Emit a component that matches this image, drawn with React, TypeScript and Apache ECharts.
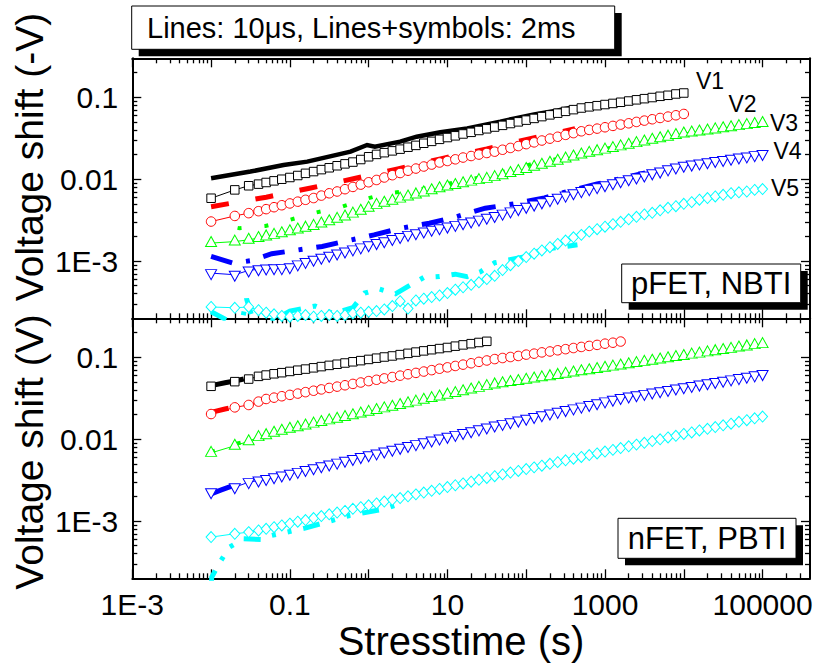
import React, { useEffect, useRef } from "react";
import * as echarts from "echarts";

const FONT = "'Liberation Sans', Arial, Helvetica, sans-serif";

// ---------- axes ----------
const X_MIN = 0.001;
const X_MAX = 4e5;
const Y_MIN = 2e-4;
const Y_MAX = 0.3;
const X_MAJOR = [0.001, 0.01, 0.1, 1, 10, 100, 1000, 10000, 100000];
const X_LABEL_VALUES = [0.001, 0.1, 10, 1000, 100000];
const X_TICK_LABELS = ["1E-3", "0.1", "10", "1000", "100000"];
const Y_MAJOR = [0.001, 0.01, 0.1];
const Y_LABEL_VALUES = [0.001, 0.01, 0.1];
const Y_TICK_LABELS = ["1E-3", "0.01", "0.1"];

// ---------- stress times of the 2 ms (lines+symbols) measurements, s ----------
const T_SYM = [
  0.01, 0.02, 0.03, 0.04, 0.05, 0.063, 0.079,
  0.1, 0.126, 0.158, 0.2, 0.251, 0.316, 0.398, 0.501, 0.631, 0.794,
  1, 1.26, 1.58, 2, 2.51, 3.16, 3.98, 5.01, 6.31, 7.94,
  10, 12.6, 15.8, 20, 25.1, 31.6, 39.8, 50.1, 63.1, 79.4,
  100, 126, 158, 200, 251, 316, 398, 501, 631, 794,
  1000, 1260, 1580, 2000, 2510, 3160, 3980, 5010, 6310, 7940,
  10000, 12600, 15800, 20000, 25100, 31600, 39800, 50100, 63100, 79400,
  100000,
];

// ---------- pFET, NBTI : 2 ms symbols (V) ----------
const P_V1 = [0.00586, 0.00741, 0.00832, 0.00871, 0.00912, 0.00955, 0.0100, 0.0105, 0.0111, 0.0118, 0.0124, 0.0131, 0.0138, 0.0146, 0.0154, 0.0162, 0.0174, 0.0188, 0.0201, 0.0211, 0.0222, 0.0233, 0.0246, 0.0259, 0.0275, 0.0290, 0.0307, 0.0323, 0.0339, 0.0357, 0.0374, 0.0394, 0.0413, 0.0434, 0.0455, 0.0479, 0.0502, 0.0527, 0.0553, 0.0582, 0.0611, 0.0641, 0.0675, 0.0708, 0.0741, 0.0766, 0.0791, 0.0817, 0.0843, 0.0871, 0.0902, 0.0933, 0.0964, 0.0995, 0.103, 0.106, 0.110, 0.113];
const P_V2 = [0.00304, 0.00356, 0.00385, 0.00407, 0.00431, 0.00455, 0.00481, 0.00506, 0.00532, 0.00560, 0.00589, 0.00631, 0.00673, 0.00708, 0.00755, 0.00805, 0.00859, 0.00918, 0.00979, 0.0105, 0.0112, 0.0119, 0.0127, 0.0135, 0.0143, 0.0151, 0.0160, 0.0167, 0.0175, 0.0184, 0.0192, 0.0200, 0.0209, 0.0217, 0.0229, 0.0241, 0.0254, 0.0268, 0.0282, 0.0297, 0.0313, 0.0330, 0.0348, 0.0366, 0.0385, 0.0400, 0.0415, 0.0431, 0.0448, 0.0465, 0.0482, 0.0501, 0.0520, 0.0540, 0.0560, 0.0582, 0.0604, 0.0627];
const P_V3 = [0.00166, 0.00173, 0.00182, 0.00191, 0.00200, 0.00209, 0.00219, 0.00231, 0.00243, 0.00256, 0.00269, 0.00288, 0.00307, 0.00328, 0.00350, 0.00380, 0.00412, 0.00447, 0.00486, 0.00515, 0.00546, 0.00579, 0.00614, 0.00652, 0.00690, 0.00733, 0.00776, 0.00813, 0.00851, 0.00893, 0.00935, 0.00975, 0.0101, 0.0106, 0.0112, 0.0119, 0.0126, 0.0133, 0.0142, 0.0150, 0.0159, 0.0168, 0.0179, 0.0189, 0.0200, 0.0210, 0.0220, 0.0230, 0.0240, 0.0252, 0.0264, 0.0276, 0.0289, 0.0303, 0.0316, 0.0331, 0.0347, 0.0361, 0.0372, 0.0383, 0.0394, 0.0406, 0.0419, 0.0432, 0.0445, 0.0458, 0.0472, 0.0486];
const P_V4 = [0.000713, 0.000681, 0.000769, 0.000794, 0.000813, 0.000817, 0.000820, 0.000841, 0.000912, 0.000977, 0.00104, 0.00110, 0.00116, 0.00124, 0.00131, 0.00139, 0.00147, 0.00156, 0.00166, 0.00175, 0.00186, 0.00197, 0.00209, 0.00219, 0.00230, 0.00241, 0.00252, 0.00264, 0.00277, 0.00290, 0.00304, 0.00321, 0.00338, 0.00356, 0.00380, 0.00405, 0.00432, 0.00460, 0.00490, 0.00522, 0.00556, 0.00593, 0.00631, 0.00673, 0.00716, 0.00757, 0.00800, 0.00845, 0.00893, 0.00944, 0.00998, 0.0105, 0.0111, 0.0118, 0.0124, 0.0132, 0.0139, 0.0146, 0.0151, 0.0156, 0.0161, 0.0167, 0.0172, 0.0178, 0.0184, 0.0190, 0.0197, 0.0203];
const P_V5 = [0.000275, 0.000269, 0.000275, 0.000251, 0.000234, 0.000224, 0.000214, 0.000209, 0.000214, 0.000219, 0.000209, 0.000214, 0.000219, 0.000214, 0.000219, 0.000229, 0.000234, 0.000240, 0.000245, 0.000257, 0.000282, 0.000324, 0.000263, 0.000331, 0.000347, 0.000363, 0.000380, 0.000407, 0.000447, 0.000479, 0.000513, 0.000550, 0.000603, 0.000661, 0.000776, 0.000891, 0.00100, 0.00112, 0.00123, 0.00135, 0.00148, 0.00162, 0.00178, 0.00195, 0.00209, 0.00229, 0.00245, 0.00263, 0.00282, 0.00302, 0.00324, 0.00347, 0.00372, 0.00389, 0.00417, 0.00447, 0.00468, 0.00501, 0.00525, 0.00562, 0.00589, 0.00617, 0.00646, 0.00676, 0.00692, 0.00708, 0.00741, 0.00759];

// ---------- pFET, NBTI : 10 us lines ----------
const P_L1_T = [0.01, 0.0316, 0.0832, 0.166, 0.251, 0.589, 0.955, 1.20, 2.51, 4.07, 8.13, 17.8, 46.8, 69.2, 126, 251, 398];
const P_L1_V = [0.0103, 0.0124, 0.0149, 0.0164, 0.0180, 0.0217, 0.0262, 0.0250, 0.0288, 0.0331, 0.0374, 0.0418, 0.0505, 0.0550, 0.0617, 0.0692, 0.0759];
const P_L2_T = [0.01, 0.0501, 0.178, 0.661, 2.34, 8.71, 31.6, 120, 417];
const P_L2_V = [0.00462, 0.00603, 0.00776, 0.0102, 0.0134, 0.0180, 0.0234, 0.0318, 0.0414];
const P_L3_T = [0.01, 0.0229, 0.049, 0.1, 0.214, 0.437, 0.822, 1.70, 3.72, 17.8, 39.8, 112, 1000, 3981, 19953, 100000];
const P_L3_V = [0.00295, 0.00252, 0.00269, 0.00319, 0.00392, 0.00455, 0.00558, 0.00675, 0.00726, 0.00979, 0.0115, 0.0151, 0.0234, 0.0305, 0.0389, 0.0468];
const P_L4_T = [0.01, 0.0191, 0.0316, 0.0589, 0.115, 0.257, 0.550, 1.17, 2.57, 5.89, 13.2, 30.2, 69.2, 170, 347, 794, 3236];
const P_L4_V = [0.00114, 0.000944, 0.00101, 0.00123, 0.00135, 0.00151, 0.00178, 0.00209, 0.00252, 0.00290, 0.00350, 0.00443, 0.00499, 0.00592, 0.00713, 0.00875, 0.0119];
const P_L5_T = [0.01, 0.0158, 0.024, 0.0282, 0.0355, 0.0631, 0.1, 0.209, 0.355, 0.631, 0.891, 1.35, 2.19, 3.16, 5.01, 7.94, 12.6, 17.8, 26.3, 39.8, 93.3, 158, 275, 447];
const P_L5_V = [0.00024, 0.000191, 0.000158, 0.000347, 0.000166, 0.000191, 0.000245, 0.000282, 0.000229, 0.000269, 0.000407, 0.000457, 0.000398, 0.00049, 0.000631, 0.000646, 0.000692, 0.000646, 0.000741, 0.000955, 0.00112, 0.00138, 0.00148, 0.00158];

// ---------- nFET, PBTI : 2 ms symbols (V) ----------
const N_V1 = [0.0443, 0.0505, 0.0543, 0.0586, 0.0608, 0.0630, 0.0650, 0.0673, 0.0697, 0.0719, 0.0745, 0.0771, 0.0798, 0.0824, 0.0853, 0.0883, 0.0912, 0.0944, 0.0977, 0.101, 0.104, 0.108, 0.112, 0.116, 0.120, 0.124, 0.128, 0.132, 0.137, 0.142, 0.147, 0.152, 0.157];
const N_V2 = [0.0203, 0.0245, 0.0262, 0.0288, 0.0310, 0.0322, 0.0335, 0.0348, 0.0361, 0.0376, 0.0391, 0.0406, 0.0423, 0.0439, 0.0456, 0.0474, 0.0493, 0.0513, 0.0532, 0.0553, 0.0575, 0.0598, 0.0622, 0.0646, 0.0671, 0.0698, 0.0726, 0.0755, 0.0785, 0.0815, 0.0847, 0.0881, 0.0916, 0.0953, 0.0982, 0.101, 0.104, 0.108, 0.111, 0.115, 0.118, 0.122, 0.126, 0.130, 0.134, 0.138, 0.142, 0.147, 0.151, 0.156];
const N_V3 = [0.00681, 0.00832, 0.00944, 0.0106, 0.0112, 0.0120, 0.0127, 0.0134, 0.0140, 0.0147, 0.0155, 0.0162, 0.0170, 0.0178, 0.0187, 0.0196, 0.0206, 0.0216, 0.0227, 0.0238, 0.0249, 0.0262, 0.0275, 0.0288, 0.0303, 0.0318, 0.0333, 0.0350, 0.0366, 0.0385, 0.0404, 0.0424, 0.0445, 0.0467, 0.0482, 0.0499, 0.0515, 0.0533, 0.0551, 0.0570, 0.0589, 0.0610, 0.0631, 0.0652, 0.0675, 0.0697, 0.0721, 0.0745, 0.0771, 0.0796, 0.0824, 0.0851, 0.0881, 0.0910, 0.0942, 0.0973, 0.101, 0.104, 0.108, 0.111, 0.115, 0.119, 0.123, 0.127, 0.132, 0.136, 0.141, 0.145];
const N_V4 = [0.00225, 0.00259, 0.00299, 0.00313, 0.00327, 0.00343, 0.00360, 0.00379, 0.00399, 0.00421, 0.00443, 0.00467, 0.00492, 0.00518, 0.00546, 0.00574, 0.00605, 0.00637, 0.00671, 0.00708, 0.00745, 0.00785, 0.00826, 0.00871, 0.00918, 0.00966, 0.0102, 0.0107, 0.0113, 0.0119, 0.0125, 0.0132, 0.0139, 0.0147, 0.0154, 0.0161, 0.0169, 0.0178, 0.0187, 0.0196, 0.0206, 0.0216, 0.0227, 0.0238, 0.0250, 0.0262, 0.0275, 0.0290, 0.0304, 0.0319, 0.0333, 0.0345, 0.0358, 0.0372, 0.0385, 0.0400, 0.0416, 0.0432, 0.0448, 0.0465, 0.0482, 0.0500, 0.0519, 0.0538, 0.0558, 0.0581, 0.0603, 0.0625];
const N_V5 = [0.000637, 0.000700, 0.000733, 0.000769, 0.000804, 0.000841, 0.000885, 0.000931, 0.000982, 0.00103, 0.00109, 0.00115, 0.00121, 0.00127, 0.00133, 0.00141, 0.00148, 0.00156, 0.00164, 0.00173, 0.00182, 0.00191, 0.00201, 0.00212, 0.00223, 0.00234, 0.00247, 0.00260, 0.00274, 0.00288, 0.00303, 0.00319, 0.00336, 0.00354, 0.00372, 0.00391, 0.00410, 0.00432, 0.00453, 0.00475, 0.00500, 0.00525, 0.00552, 0.00579, 0.00608, 0.00640, 0.00671, 0.00706, 0.00741, 0.00780, 0.00818, 0.00859, 0.00904, 0.00948, 0.00998, 0.0105, 0.0110, 0.0116, 0.0121, 0.0128, 0.0134, 0.0141, 0.0148, 0.0155, 0.0163, 0.0171, 0.0180, 0.0189];

// ---------- nFET, PBTI : 10 us lines ----------
const N_L1_T = [0.01, 0.015, 0.02, 0.026];
const N_L1_V = [0.0451, 0.0490, 0.0515, 0.0543];
const N_L2_T = [0.01, 0.015, 0.019];
const N_L2_V = [0.0213, 0.0234, 0.0245];
const N_L3_T = [0.01, 0.0216, 0.05];
const N_L3_V = [0.0070, 0.0089, 0.0107];
const N_L4_T = [0.01, 0.0135, 0.0192];
const N_L4_V = [0.00215, 0.0024, 0.00272];
const N_L5_T = [0.01, 0.0102, 0.013, 0.0171, 0.0258, 0.0437, 0.0589, 0.156, 0.571, 1.62, 2.40];
const N_L5_V = [0.000158, 0.000207, 0.000316, 0.000481, 0.000608, 0.000597, 0.000668, 0.00082, 0.00117, 0.00141, 0.00162];

const SERIES_NAMES = ["V1", "V2", "V3", "V4", "V5"];
const COLORS = ["#000000", "#ff0000", "#00ff00", "#0000ff", "#00ffff"];

// ---------- helpers ----------
const minorTicks = (lo: number, hi: number, min: number, max: number) => {
  const out: number[] = [];
  for (let e = lo; e <= hi; e++) {
    for (let m = 2; m <= 9; m++) {
      const v = m * Math.pow(10, e);
      if (v > min * 1.0001 && v < max * 0.9999) out.push(v);
    }
  }
  return out;
};
const X_MINOR = minorTicks(-3, 5, X_MIN, X_MAX);
const Y_MINOR = minorTicks(-4, -1, Y_MIN, Y_MAX);

const fmt = (values: number[], labels: string[]) => (v: number) => {
  const i = values.findIndex((x) => Math.abs(Math.log10(x) - Math.log10(v)) < 1e-6);
  return i >= 0 ? labels[i] : "";
};

const pairs = (t: number[], v: number[]) => v.map((y, i) => [t[i], y]);

const GRID_LEFT = 132.3;
const GRID_W = 677.7;
const GRID_H = 260;
const TOPS = [58.3, 318.3];

function xAxis(grid: number, position: string, ticks: number[], len: number, line: boolean, label: boolean) {
  return {
    type: "log",
    logBase: 10,
    gridIndex: grid,
    position,
    min: X_MIN,
    max: X_MAX,
    silent: true,
    axisLine: { show: line, lineStyle: { color: "#000", width: 2 } },
    axisTick: { show: true, inside: true, length: len, customValues: ticks, lineStyle: { color: "#000", width: 1.3 } },
    axisLabel: label
      ? { show: true, customValues: X_LABEL_VALUES, formatter: fmt(X_LABEL_VALUES, X_TICK_LABELS), fontSize: 30, fontFamily: FONT, color: "#000", margin: 11 }
      : { show: false },
    splitLine: { show: false },
    minorTick: { show: false },
    minorSplitLine: { show: false },
  };
}

function yAxis(grid: number, position: string, ticks: number[], len: number, line: boolean, label: boolean) {
  return {
    type: "log",
    logBase: 10,
    gridIndex: grid,
    position,
    min: Y_MIN,
    max: Y_MAX,
    silent: true,
    axisLine: { show: line, lineStyle: { color: "#000", width: 2 } },
    axisTick: { show: true, inside: true, length: len, customValues: ticks, lineStyle: { color: "#000", width: 1.3 } },
    axisLabel: label
      ? { show: true, customValues: Y_LABEL_VALUES, formatter: fmt(Y_LABEL_VALUES, Y_TICK_LABELS), fontSize: 30, fontFamily: FONT, color: "#000", margin: 14 }
      : { show: false },
    splitLine: { show: false },
    minorTick: { show: false },
    minorSplitLine: { show: false },
  };
}

function fastLine(panel: number, idx: number, t: number[], v: number[], type: any, width: number) {
  return {
    type: "line",
    name: SERIES_NAMES[idx] + " 10us",
    xAxisIndex: panel * 4,
    yAxisIndex: panel * 4,
    data: pairs(t, v),
    symbol: "none",
    showSymbol: false,
    silent: true,
    clip: true,
    lineStyle: { color: COLORS[idx], width, type, cap: "butt", join: "miter" },
    emphasis: { disabled: true },
    z: 2,
  };
}

const SYMBOLS: any[] = [
  { symbol: "rect", size: 8.5, rotate: 0, offset: [0, 0] },
  { symbol: "circle", size: 9.5, rotate: 0, offset: [0, 0] },
  { symbol: "triangle", size: [11, 10], rotate: 0, offset: [0, -1.5] },
  { symbol: "triangle", size: [11, 10], rotate: 180, offset: [0, 1.5] },
  { symbol: "diamond", size: [10, 11], rotate: 0, offset: [0, 0] },
];

function symLine(panel: number, idx: number, t: number[], v: number[]) {
  const s = SYMBOLS[idx];
  return {
    type: "line",
    name: SERIES_NAMES[idx] + " 2ms",
    xAxisIndex: panel * 4,
    yAxisIndex: panel * 4,
    data: pairs(t, v),
    symbol: s.symbol,
    symbolSize: s.size,
    symbolRotate: s.rotate,
    symbolOffset: s.offset,
    showSymbol: true,
    showAllSymbol: true,
    silent: true,
    clip: true,
    itemStyle: { color: "#ffffff", borderColor: COLORS[idx], borderWidth: 1 },
    lineStyle: { color: COLORS[idx], width: 1 },
    emphasis: { disabled: true },
    z: 3,
  };
}

const DASH = [18, 27];
const DOT = [4, 23];
const DASH_DOT = [22, 14, 4, 14];
const DASH_DOT_DOT = [17, 12, 4, 12, 4, 12];

function boxWithShadow(x: number, y: number, w: number, h: number, text: string, fontSize: number, textX: number | null) {
  return [
    { type: "rect", z: 20, silent: true, shape: { x: x + 7, y: y + 7, width: w, height: h }, style: { fill: "#000" } },
    { type: "rect", z: 21, silent: true, shape: { x, y, width: w, height: h }, style: { fill: "#fff", stroke: "#000", lineWidth: 1 } },
    {
      type: "text",
      z: 22,
      silent: true,
      x: textX === null ? x + w / 2 : textX,
      y: y + h / 2,
      style: {
        text,
        fontSize,
        fontFamily: FONT,
        fill: "#000",
        align: textX === null ? "center" : "left",
        textAlign: textX === null ? "center" : "left",
        verticalAlign: "middle",
        textVerticalAlign: "middle",
      },
    },
  ];
}

function label(text: string, x: number, y: number, fontSize: number, rotation = 0) {
  return {
    type: "text",
    z: 22,
    silent: true,
    x,
    y,
    rotation,
    style: {
      text,
      fontSize,
      fontFamily: FONT,
      fill: "#000",
      align: "center",
      textAlign: "center",
      verticalAlign: "middle",
      textVerticalAlign: "middle",
    },
  };
}

export default function App() {
  const ref = useRef<HTMLDivElement>(null);
  useEffect(() => {
    if (!ref.current) return;
    const chart = echarts.init(ref.current, null, { renderer: "svg" });
    const grids = TOPS.map((top) => ({ left: GRID_LEFT, top, width: GRID_W, height: GRID_H, containLabel: false, outerBoundsMode: "none" }));
    const xAxes: any[] = [];
    const yAxes: any[] = [];
    [0, 1].forEach((g) => {
      xAxes.push(xAxis(g, "bottom", X_MAJOR, 9, true, g === 1));
      xAxes.push(xAxis(g, "bottom", X_MINOR, 5, false, false));
      xAxes.push(xAxis(g, "top", X_MAJOR, 9, true, false));
      xAxes.push(xAxis(g, "top", X_MINOR, 5, false, false));
      yAxes.push(yAxis(g, "left", Y_MAJOR, 9, true, true));
      yAxes.push(yAxis(g, "left", Y_MINOR, 5, false, false));
      yAxes.push(yAxis(g, "right", Y_MAJOR, 9, true, false));
      yAxes.push(yAxis(g, "right", Y_MINOR, 5, false, false));
    });

    const series: any[] = [
      fastLine(0, 0, P_L1_T, P_L1_V, "solid", 4.5),
      fastLine(0, 1, P_L2_T, P_L2_V, DASH, 5),
      fastLine(0, 2, P_L3_T, P_L3_V, DOT, 4),
      fastLine(0, 3, P_L4_T, P_L4_V, DASH_DOT, 5),
      fastLine(0, 4, P_L5_T, P_L5_V, DASH_DOT_DOT, 5),
      fastLine(1, 0, N_L1_T, N_L1_V, "solid", 5),
      fastLine(1, 1, N_L2_T, N_L2_V, DASH, 5),
      fastLine(1, 2, N_L3_T, N_L3_V, DOT, 4),
      fastLine(1, 3, N_L4_T, N_L4_V, DASH_DOT, 5),
      fastLine(1, 4, N_L5_T, N_L5_V, DASH_DOT_DOT, 5),
      symLine(0, 0, T_SYM, P_V1),
      symLine(0, 1, T_SYM, P_V2),
      symLine(0, 2, T_SYM, P_V3),
      symLine(0, 3, T_SYM, P_V4),
      symLine(0, 4, T_SYM, P_V5),
      symLine(1, 0, T_SYM, N_V1),
      symLine(1, 1, T_SYM, N_V2),
      symLine(1, 2, T_SYM, N_V3),
      symLine(1, 3, T_SYM, N_V4),
      symLine(1, 4, T_SYM, N_V5),
    ];

    const graphic: any[] = [
      ...boxWithShadow(131.7, 6, 483, 43.3, "Lines: 10\u03bcs, Lines+symbols: 2ms", 29, 147),
      ...boxWithShadow(621.7, 264, 179, 38.7, "pFET, NBTI", 31, null),
      ...boxWithShadow(618, 518.3, 178, 40, "nFET, PBTI", 31, null),
      label("V1", 710, 80.5, 23),
      label("V2", 742.5, 104, 23),
      label("V3", 784, 123, 23),
      label("V4", 787.5, 151.3, 23),
      label("V5", 785, 188, 23),
      label("Voltage shift (-V)", 29, 157, 39, Math.PI / 2),
      label("Voltage shift (V)", 29, 452, 39, Math.PI / 2),
      label("Stresstime (s)", 461, 641, 40),
    ];

    chart.setOption({
      animation: false,
      backgroundColor: "#ffffff",
      textStyle: { fontFamily: FONT },
      grid: grids,
      xAxis: xAxes,
      yAxis: yAxes,
      series,
      graphic,
    });
    return () => chart.dispose();
  }, []);
  return <div ref={ref} style={{ position: "absolute", left: 0, top: 0, width: 817, height: 665, background: "#fff" }} />;
}
